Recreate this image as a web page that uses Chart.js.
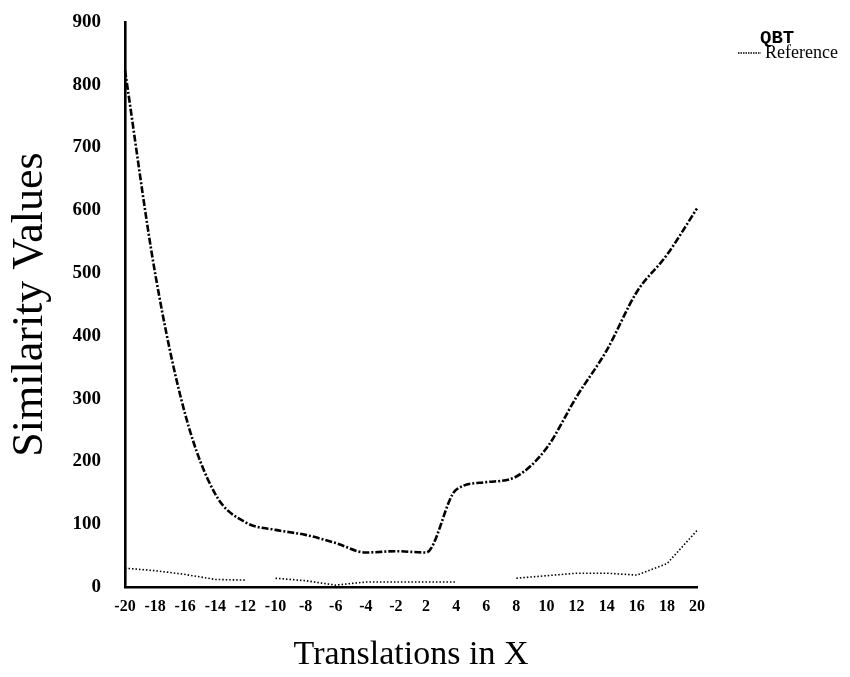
<!DOCTYPE html>
<html>
<head>
<meta charset="utf-8">
<script src="https://cdn.jsdelivr.net/npm/chart.js@4"></script>
<style>
  html, body { margin: 0; padding: 0; background: #fff; }
  #wrap { width: 850px; height: 677px; }
</style>
</head>
<body>
<div id="wrap"><canvas id="chart" width="850" height="677"></canvas></div>
<script>
// translations along X (no 0 step)
var translations = [-20, -18, -16, -14, -12, -10, -8, -6, -4, -2, 2, 4, 6, 8, 10, 12, 14, 16, 18, 20];
var qbtValues = [823, 500, 275, 148, 103, 91, 83, 70, 55, 57, 55, 155, 167, 176, 221, 303, 377, 470, 529, 603];
var referenceValues = [30, 26, 20, 12, 11, 14, 10, 3, 8, 8, 8, 8, null, 14, 18, 22, 22, 19, 37, 90];
var referenceBreaks = [4]; // segment starting at -12 is not drawn
var yTicks = [0, 100, 200, 300, 400, 500, 600, 700, 800, 900];

var serif = "'Liberation Serif', 'Times New Roman', serif";

// legend drawn in the right margin
var sideLegend = {
  id: "sideLegend",
  afterDraw: function (chart) {
    var ctx = chart.ctx;
    ctx.save();
    ctx.fillStyle = "#000";
    ctx.textBaseline = "middle";
    ctx.font = "bold 19px 'Liberation Mono', monospace";
    ctx.fillText(chart.data.datasets[0].label, 760, 38);
    ctx.font = "18px " + serif;
    ctx.fillText(chart.data.datasets[1].label, 765, 53);
    ctx.strokeStyle = "#000";
    ctx.lineWidth = 1.5;
    ctx.setLineDash([1.5, 1]);
    ctx.beginPath();
    ctx.moveTo(738, 53);
    ctx.lineTo(761, 53);
    ctx.stroke();
    ctx.restore();
  }
};

new Chart(document.getElementById("chart"), {
  type: "line",
  data: {
    labels: translations,
    datasets: [
      {
        label: "QBT",
        data: qbtValues,
        borderColor: "#000",
        borderWidth: 2.6,
        borderDash: [7, 2, 2, 2],
        pointRadius: 0,
        cubicInterpolationMode: "monotone",
        fill: false
      },
      {
        label: "Reference",
        data: referenceValues,
        borderColor: "#000",
        borderWidth: 1.6,
        borderDash: [1.5, 2],
        pointRadius: 0,
        spanGaps: false,
        fill: false,
        segment: {
          borderColor: function (c) {
            return referenceBreaks.indexOf(c.p0DataIndex) >= 0 ? "rgba(0,0,0,0)" : undefined;
          }
        }
      }
    ]
  },
  options: {
    responsive: false,
    animation: false,
    layout: { padding: { top: 22, right: 153, bottom: 0, left: 0 } },
    plugins: {
      legend: { display: false },
      tooltip: { enabled: false }
    },
    scales: {
      x: {
        type: "category",
        offset: false,
        grid: { display: false, drawTicks: false },
        border: { display: true, color: "#000", width: 2.6 },
        ticks: {
          color: "#000",
          font: { family: serif, size: 16, weight: "bold" },
          padding: 10,
          maxRotation: 0,
          autoSkip: false
        },
        title: {
          display: true,
          text: "Translations in X",
          color: "#000",
          font: { family: serif, size: 34, lineHeight: 1 },
          padding: { top: 0, bottom: 5 }
        },
        afterFit: function (s) { s.height = 90; }
      },
      y: {
        min: 0,
        max: 900,
        afterBuildTicks: function (s) {
          s.ticks = yTicks.map(function (v) { return { value: v }; });
        },
        grid: { display: false, drawTicks: false },
        border: { display: true, color: "#000", width: 2.6 },
        ticks: {
          color: "#000",
          font: { family: serif, size: 19, weight: "bold" },
          padding: 24
        },
        title: {
          display: true,
          text: "Similarity Values",
          color: "#000",
          font: { family: serif, size: 44, lineHeight: 1 },
          padding: { top: 8, bottom: 0 }
        },
        afterFit: function (s) {
          s.width = 125;
          s.paddingTop = 0;
          s.paddingBottom = 0;
        }
      }
    }
  },
  plugins: [sideLegend]
});
</script>
</body>
</html>
